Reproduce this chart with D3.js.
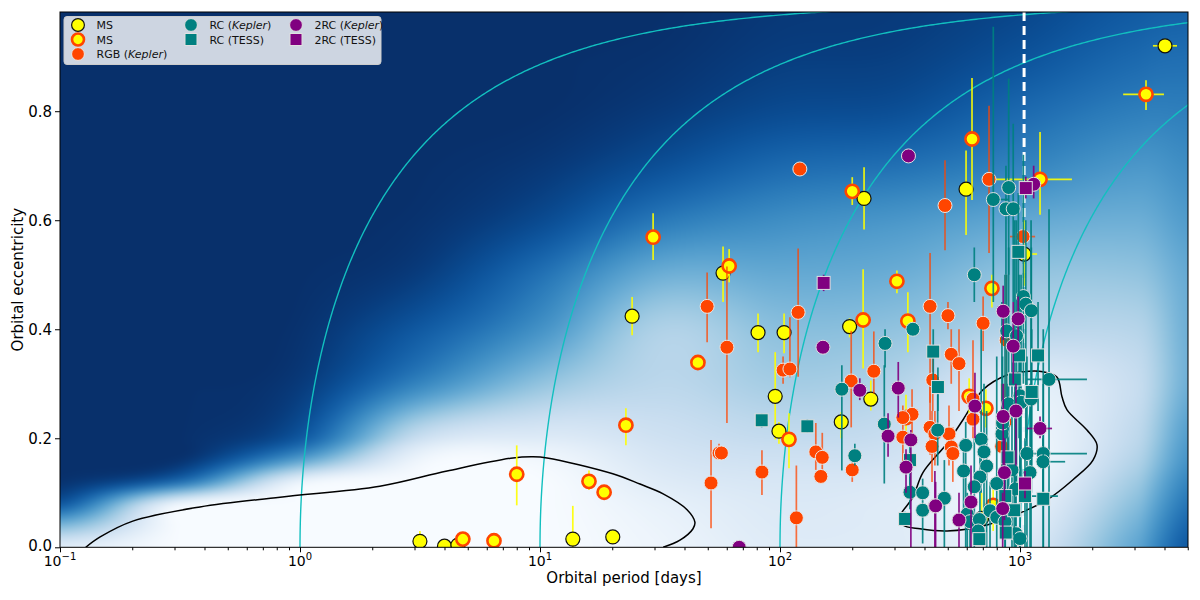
<!DOCTYPE html>
<html>
<head>
<meta charset="utf-8">
<script src="https://cdn.jsdelivr.net/npm/d3@7"></script>
<style>
  body { margin: 0; background: #fff; }
  text { font-family: "DejaVu Sans", sans-serif; }
</style>
</head>
<body>
<svg id="chart" width="1200" height="600"></svg>
<script>
// ---- data: [period, ecc, eLow, eHigh, pLow, pHigh] ----
var msPoints = [
  [4020, 0.92, null, null, 3580, 4510], [224, 0.64, 0.583, 0.697], [596, 0.657, 0.573, 0.728],
  [1040, 0.538, 0.48, 0.6, 935, 1178], [24.2, 0.424, 0.389, 0.459], [57.9, 0.503, 0.45, 0.552],
  [81, 0.394, 0.358, 0.429], [104, 0.394, 0.356, 0.429], [195, 0.405, 0.385, 0.42],
  [95.5, 0.277, 0.198, 0.358], [99, 0.213, 0.19, 0.23], [180, 0.23, 0.2, 0.248],
  [239, 0.272, 0.251, 0.306], [3.16, 0.011, 0.0, 0.03], [4.0, 0.002], [4.55, 0.004],
  [13.7, 0.015, 0.0, 0.076], [20.1, 0.019], [692, 0.053, 0.013, 0.1]
];
var ms2Points = [
  [3350, 0.831, 0.802, 0.857, 2690, 3980], [631, 0.749, 0.637, 0.861], [200, 0.653, 0.628, 0.679],
  [1212, 0.675, 0.61, 0.762, 787, 1646], [29.6, 0.569, 0.527, 0.613], [61.4, 0.516, 0.486, 0.547],
  [307, 0.488, 0.466, 0.508], [341, 0.415, 0.358, 0.468], [222, 0.417, 0.328, 0.51],
  [45.5, 0.339], [109, 0.198, 0.145, 0.246], [22.8, 0.224, 0.187, 0.255],
  [8.0, 0.134, 0.077, 0.187], [16.0, 0.121, 0.105, 0.141], [18.5, 0.101], [4.77, 0.015],
  [6.43, 0.012], [614, 0.277, 0.24, 0.31], [721, 0.255, 0.22, 0.29], [335, 0.238, 0.2, 0.28],
  [764, 0.475, 0.44, 0.5], [773, 0.077, 0.03, 0.11]
];
var rgbPoints = [
  [121, 0.694], [49.7, 0.442, 0.376, 0.504], [60.1, 0.367, 0.228, 0.515], [119, 0.431, 0.313, 0.548],
  [103, 0.325, 0.3, 0.35], [110, 0.327, 0.312, 0.422], [422, 0.442, 0.265, 0.54], [433, 0.307, 0.25, 0.36],
  [198, 0.305, 0.22, 0.397], [246, 0.323, 0.282, 0.396], [355, 0.244, 0.2, 0.29], [325, 0.202, 0.15, 0.26],
  [325, 0.238], [422, 0.22, 0.17, 0.3], [442, 0.208, 0.15, 0.25], [430, 0.185, 0.12, 0.25],
  [55.7, 0.173, 0.16, 0.19], [57.0, 0.173], [51.6, 0.118, 0.035, 0.197], [84.1, 0.138, 0.096, 0.178],
  [141, 0.175, 0.142, 0.228], [150, 0.165, 0.13, 0.21], [148, 0.13], [200, 0.142, 0.12, 0.16],
  [117, 0.054, 0.0, 0.15], [487, 0.627, 0.545, 0.71], [743, 0.675, 0.54, 0.81],
  [1030, 0.57, null, null, 908, 1156], [501, 0.425, 0.4, 0.45], [702, 0.411, 0.36, 0.46],
  [517, 0.354, 0.3, 0.4], [557, 0.337, 0.25, 0.4], [637, 0.272, 0.2, 0.38], [637, 0.235],
  [506, 0.208, 0.15, 0.26], [517, 0.184], [525, 0.172, 0.12, 0.22], [839, 0.185, 0.1, 0.3],
  [866, 0.23, 0.15, 0.3], [876, 0.38, 0.3, 0.5]
];
var rcKeplerPoints = [
  [274, 0.374, 0.33, 0.4], [181, 0.29, 0.141, 0.334], [205, 0.168, 0.15, 0.19], [272, 0.226, 0.117, 0.334],
  [358, 0.4], [348, 0.101, 0.07, 0.13], [393, 0.1, 0.007, 0.126], [393, 0.068], [454, 0.215, 0.15, 0.28],
  [594, 0.187, 0.0, 0.23], [689, 0.198, 0.1, 0.4], [708, 0.175, 0.05, 0.3], [726, 0.149, 0.0, 0.25],
  [681, 0.129, 0.05, 0.2], [582, 0.14, 0.05, 0.2], [645, 0.111, 0.0, 0.2], [800, 0.117, 0.0, 0.35],
  [484, 0.09, 0.0, 0.16], [603, 0.061, 0.0, 0.1], [619, 0.047, 0.0, 0.08], [677, 0.051],
  [750, 0.067, 0.0, 0.12], [800, 0.055], [866, 0.047, 0.0, 0.5], [962, 0.025, 0.0, 0.3],
  [1000, 0.016, 0.0, 0.4], [670, 0.03], [841, 0.208, 0.1, 0.45], [846, 0.228, 0.1, 0.35],
  [897, 0.263, 0.05, 0.55], [1000, 0.278, 0.1, 0.45], [1010, 0.266, 0.1, 0.5], [1112, 0.272, 0.0, 0.6],
  [1069, 0.172, 0.0, 0.35], [1101, 0.137, 0.0, 0.3], [1250, 0.172, 0.0, 0.3, 1069, 1901],
  [1247, 0.157, 0.1, 0.2, 1177, 1542], [1321, 0.308, 0.0, 0.62, 1069, 1901], [926, 0.142, 0.0, 0.4],
  [959, 0.107, 0.0, 0.3], [897, 0.66, 0.5, 0.86], [774, 0.638, 0.45, 0.955, 757, 895],
  [874, 0.621, 0.5, 0.7], [937, 0.621, 0.45, 0.777], [645, 0.5, 0.45, 0.55], [1033, 0.46, 0.3, 0.72],
  [1057, 0.446, 0.2, 0.6], [1115, 0.434, 0.1, 0.55], [880, 0.397, 0.2, 0.5], [967, 0.388, 0.1, 0.6]
];
var rcTessPoints = [
  [83.9, 0.233, 0.22, 0.245], [130, 0.222, 0.21, 0.235], [435, 0.359, 0.3, 0.4], [455, 0.294, 0.25, 0.33],
  [348, 0.16, 0.1, 0.2], [332, 0.052, 0.04, 0.065], [952, 0.308, 0.1, 0.6], [991, 0.352, 0.2, 0.5],
  [1189, 0.352, 0.25, 0.45], [1119, 0.285, 0.15, 0.4], [887, 0.165, 0.05, 0.3],
  [1049, 0.094, 0.0, 0.2, 1030, 1439], [1250, 0.089, 0.0, 0.4], [868, 0.094, 0.0, 0.2],
  [946, 0.068, 0.0, 0.15], [872, 0.027], [677, 0.015], [984, 0.542, 0.4, 0.65]
];
var twoRcKeplerPoints = [
  [343, 0.718], [151, 0.367], [215, 0.288, 0.27, 0.31], [311, 0.292, 0.238, 0.34], [282, 0.204, 0.166, 0.246],
  [351, 0.197, 0.0, 0.215], [335, 0.147, 0.1, 0.18], [442, 0.076, 0.0, 0.14], [67.6, 0.0],
  [937, 0.369, 0.3, 0.45], [851, 0.24, 0.15, 0.3], [962, 0.25, 0.15, 0.3], [649, 0.259, 0.2, 0.32],
  [1212, 0.218, 0.2, 0.24, 1069, 1360], [861, 0.137, 0.05, 0.2], [625, 0.083, 0.0, 0.15],
  [445, 0.076, 0.0, 0.12], [557, 0.05, 0.0, 0.1], [847, 0.071, 0.0, 0.1], [1140, 0.666, 0.64, 0.7],
  [851, 0.433, 0.38, 0.48], [982, 0.419, 0.37, 0.46]
];
var twoRcTessPoints = [
  [152, 0.485, 0.47, 0.5], [1049, 0.117, 0.09, 0.14], [1057, 0.659, 0.64, 0.68]
];

// background density (0 = dark, 1 = white), one column per log-period node, rows follow bgEcc
var bgLogP = [-1, -0.5, 0, 0.5, 1, 1.5, 2, 2.5, 3, 3.5, 3.7];
var bgEcc = [0, 0.04, 0.08, 0.12, 0.16, 0.2, 0.3, 0.4, 0.5, 0.6, 0.7, 0.8, 0.9, 1.0];
var bgDensity = [
  [0.9, 0.55, 0.15, 0.01, 0, 0, 0, 0, 0, 0, 0, 0, 0, 0],
  [1, 1, 0.97, 0.25, 0.01, 0, 0, 0, 0, 0, 0, 0, 0, 0],
  [1, 1, 1, 0.95, 0.45, 0.15, 0.04, 0.01, 0, 0, 0, 0, 0, 0],
  [1, 1, 1, 1, 0.96, 0.78, 0.33, 0.16, 0.05, 0.01, 0, 0, 0, 0],
  [1, 1, 1, 1, 0.97, 0.87, 0.6, 0.38, 0.25, 0.1, 0.03, 0, 0, 0],
  [0.95, 0.94, 0.92, 0.88, 0.84, 0.8, 0.72, 0.68, 0.5, 0.28, 0.12, 0.04, 0.01, 0],
  [0.88, 0.87, 0.86, 0.84, 0.8, 0.75, 0.65, 0.58, 0.48, 0.36, 0.22, 0.1, 0.05, 0.03],
  [0.88, 0.88, 0.88, 0.86, 0.82, 0.78, 0.7, 0.6, 0.5, 0.4, 0.25, 0.12, 0.06, 0.04],
  [0.87, 0.9, 0.93, 0.96, 0.97, 0.96, 0.9, 0.7, 0.6, 0.47, 0.32, 0.22, 0.13, 0.08],
  [0.45, 0.5, 0.56, 0.62, 0.68, 0.72, 0.76, 0.7, 0.6, 0.5, 0.4, 0.3, 0.22, 0.16],
  [0.15, 0.2, 0.26, 0.32, 0.38, 0.42, 0.5, 0.5, 0.48, 0.42, 0.36, 0.3, 0.24, 0.18]
];

// contour lines [period, ecc]
var contourLeft = [
  [0.128, 0.0], [0.147, 0.019], [0.201, 0.048], [0.383, 0.074], [0.826, 0.092], [2.15, 0.112],
  [4.10, 0.140], [7.72, 0.164], [9.35, 0.166], [10.7, 0.164], [20.1, 0.135], [26.1, 0.116],
  [32.6, 0.098], [41.0, 0.069], [44.2, 0.046], [43.4, 0.034], [38.3, 0.013], [32.6, 0.0]
];
var contourRight = [
  [316, 0.056], [358, 0.092], [394, 0.137], [497, 0.191], [579, 0.234], [701, 0.289], [883, 0.316],
  [1029, 0.322], [1247, 0.322], [1427, 0.312], [1496, 0.276], [1570, 0.252], [1901, 0.215],
  [2093, 0.188], [2015, 0.160], [1662, 0.124], [1296, 0.087], [1000, 0.063], [729, 0.041],
  [497, 0.030], [383, 0.034], [325, 0.041]
];
var circPeriods = [1, 10, 100, 1000];
var cutoffPeriod = 1040;
var xMajorTicks = [0.1, 1, 10, 100, 1000];
var xTickExp = ["\u22121", "0", "1", "2", "3"];
var yTicks = [0, 0.2, 0.4, 0.6, 0.8];

// ---- layout ----
var svg = d3.select('#chart');
var pLeft = 60, pRight = 1188, pTop = 12, pBottom = 547.3;
var x = d3.scaleLog().domain([0.1, Math.pow(10, 3.7)]).range([pLeft, pRight]);
var y = d3.scaleLinear().domain([0, 0.982]).range([pBottom, pTop]);

svg.append('defs').append('clipPath').attr('id', 'plotclip')
  .append('rect').attr('x', pLeft).attr('y', pTop).attr('width', pRight - pLeft).attr('height', pBottom - pTop);

// ---- background heatmap (Catmull-Rom through the grid nodes) ----
function nodeFraction(nodes, v) {
  var n = nodes.length;
  v = Math.max(nodes[0], Math.min(nodes[n - 1], v));
  var i = Math.min(d3.bisectRight(nodes, v) - 1, n - 2);
  return i + (v - nodes[i]) / (nodes[i + 1] - nodes[i]);
}
function catmull(vals, s) {
  var n = vals.length;
  var i = Math.min(Math.floor(s), n - 2), f = s - i;
  var p0 = vals[Math.max(i - 1, 0)], p1 = vals[i], p2 = vals[i + 1], p3 = vals[Math.min(i + 2, n - 1)];
  return 0.5 * (2 * p1 + (p2 - p0) * f + (2 * p0 - 5 * p1 + 4 * p2 - p3) * f * f + (3 * p1 - p0 - 3 * p2 + p3) * f * f * f);
}
var W = Math.round(pRight - pLeft), H = Math.round(pBottom - pTop), pad = 30;
var lut = d3.range(256).map(function(k){ return d3.rgb(d3.interpolateBlues(k / 255)); });
var rowsByEcc = bgEcc.map(function(e, j){ return bgDensity.map(function(col){ return col[j]; }); });
var off = document.createElement('canvas');
off.width = W + 2 * pad; off.height = H + 2 * pad;
var octx = off.getContext('2d');
var img = octx.createImageData(off.width, off.height);
var rowS = d3.range(off.height).map(function(py){ return nodeFraction(bgEcc, y.invert(pTop + py - pad)); });
for (var px = 0; px < off.width; px++) {
  var sc = nodeFraction(bgLogP, Math.log10(x.invert(pLeft + px - pad)));
  var profile = rowsByEcc.map(function(r){ return catmull(r, sc); });
  for (var py = 0; py < off.height; py++) {
    var v = catmull(profile, rowS[py]);
    var c = lut[Math.round((1 - Math.max(0, Math.min(1, v))) * 255)];
    var k = (py * off.width + px) * 4;
    img.data[k] = c.r; img.data[k + 1] = c.g; img.data[k + 2] = c.b; img.data[k + 3] = 255;
  }
}
octx.putImageData(img, 0, 0);
var bg = document.createElement('canvas');
bg.width = W; bg.height = H;
var bctx = bg.getContext('2d');
bctx.filter = 'blur(4px)';
bctx.drawImage(off, -pad, -pad);
svg.append('image')
  .attr('x', pLeft).attr('y', pTop).attr('width', W).attr('height', H)
  .attr('preserveAspectRatio', 'none')
  .attr('href', bg.toDataURL());

var plot = svg.append('g').attr('clip-path', 'url(#plotclip)');

// ---- constant angular momentum tracks ----
var circLine = d3.line().x(function(d){ return x(d[0]); }).y(function(d){ return y(d[1]); });
circPeriods.forEach(function(p0) {
  var pts = d3.range(0, 1.0001, 0.002).map(function(t) {
    var p = p0 * Math.pow(10, t * t * 4);
    return [p, Math.sqrt(1 - Math.pow(p0 / p, 2 / 3))];
  });
  plot.append('path').attr('d', circLine(pts))
    .attr('fill', 'none').attr('stroke', '#12bfbf').attr('stroke-width', 1.4);
});

// ---- contours ----
plot.append('path')
  .attr('d', d3.line().curve(d3.curveCatmullRom).x(function(d){ return x(d[0]); }).y(function(d){ return y(d[1]); })(contourLeft))
  .attr('fill', 'none').attr('stroke', '#000').attr('stroke-width', 1.5);
plot.append('path')
  .attr('d', d3.line().curve(d3.curveCatmullRomClosed).x(function(d){ return x(d[0]); }).y(function(d){ return y(d[1]); })(contourRight))
  .attr('fill', 'none').attr('stroke', '#000').attr('stroke-width', 1.5);

// dashed cutoff
plot.append('line')
  .attr('x1', x(cutoffPeriod)).attr('x2', x(cutoffPeriod)).attr('y1', pTop).attr('y2', pBottom)
  .attr('stroke', '#fff').attr('stroke-width', 3).attr('stroke-dasharray', '9,5');

// ---- error bars + markers ----
function drawSeries(data, opts) {
  var g = plot.append('g');
  data.forEach(function(d) {
    if (d[2] != null) {
      g.append('line').attr('x1', x(d[0])).attr('x2', x(d[0])).attr('y1', y(d[2])).attr('y2', y(d[3]))
        .attr('stroke', opts.bar).attr('stroke-width', 1.7).attr('opacity', opts.barOpacity);
    }
    if (d[4] != null) {
      g.append('line').attr('x1', x(d[4])).attr('x2', x(d[5])).attr('y1', y(d[1])).attr('y2', y(d[1]))
        .attr('stroke', opts.bar).attr('stroke-width', 1.7).attr('opacity', opts.barOpacity);
    }
  });
  data.forEach(function(d) {
    if (opts.square) {
      g.append('rect').attr('x', x(d[0]) - 6.5).attr('y', y(d[1]) - 6.5).attr('width', 13).attr('height', 13)
        .attr('fill', opts.fill).attr('stroke', opts.stroke).attr('stroke-width', opts.sw);
    } else {
      g.append('circle').attr('cx', x(d[0])).attr('cy', y(d[1])).attr('r', opts.r || 7)
        .attr('fill', opts.fill).attr('stroke', opts.stroke).attr('stroke-width', opts.sw);
    }
  });
}
var styles = {
  ms:   {fill: '#ffff00', stroke: '#111', sw: 1.2, bar: '#ffff00', barOpacity: 0.9},
  ms2:  {fill: '#ffff00', stroke: '#ff4500', sw: 2.6, bar: '#ffff00', barOpacity: 0.9, r: 6.6},
  rgb:  {fill: '#ff4500', stroke: '#e8e8e8', sw: 1, bar: '#ff4500', barOpacity: 0.75},
  rc:   {fill: '#008080', stroke: '#e0e0e0', sw: 1, bar: '#008080', barOpacity: 0.9},
  rct:  {fill: '#008080', stroke: '#e0e0e0', sw: 1, bar: '#008080', barOpacity: 0.9, square: true},
  rc2:  {fill: '#800080', stroke: '#e0e0e0', sw: 1, bar: '#800080', barOpacity: 0.9},
  rc2t: {fill: '#800080', stroke: '#e0e0e0', sw: 1, bar: '#800080', barOpacity: 0.9, square: true}
};
drawSeries(msPoints, styles.ms);
drawSeries(ms2Points, styles.ms2);
drawSeries(rgbPoints, styles.rgb);
drawSeries(rcKeplerPoints, styles.rc);
drawSeries(rcTessPoints, styles.rct);
drawSeries(twoRcKeplerPoints, styles.rc2);
drawSeries(twoRcTessPoints, styles.rc2t);

// ---- axes ----
svg.append('rect').attr('x', pLeft).attr('y', pTop).attr('width', pRight - pLeft).attr('height', pBottom - pTop)
  .attr('fill', 'none').attr('stroke', '#000').attr('stroke-width', 1);

var minorTicks = [];
[-1, 0, 1, 2, 3].forEach(function(p) {
  for (var m = 2; m <= 9; m++) {
    var v = m * Math.pow(10, p);
    if (v <= Math.pow(10, 3.7)) minorTicks.push(v);
  }
});
svg.append('g').attr('transform', 'translate(0,' + pBottom + ')')
  .call(d3.axisBottom(x).tickValues(minorTicks).tickSize(3).tickFormat(''))
  .call(function(g){ g.select('.domain').remove(); });
var xAxis = svg.append('g').attr('transform', 'translate(0,' + pBottom + ')')
  .call(d3.axisBottom(x).tickValues(xMajorTicks).tickSize(5).tickFormat(''));
xAxis.select('.domain').remove();
xMajorTicks.forEach(function(t, i) {
  var tx = svg.append('text').attr('x', x(t)).attr('y', pBottom + 19)
    .attr('text-anchor', 'middle').attr('font-size', 14).attr('fill', '#000');
  tx.append('tspan').text('10');
  tx.append('tspan').attr('dy', -6).attr('font-size', 10).text(xTickExp[i]);
});

var yAxis = svg.append('g').attr('transform', 'translate(' + pLeft + ',0)')
  .call(d3.axisLeft(y).tickValues(yTicks).tickSize(5).tickFormat(d3.format('.1f')));
yAxis.select('.domain').remove();
yAxis.selectAll('text').attr('font-size', 15).attr('font-family', '"DejaVu Sans", sans-serif');
// lift the 0.0 label a touch so it clears the first period label
yAxis.selectAll('.tick').filter(function(d){ return d === 0; }).select('text').attr('dy', '0.2em');

svg.append('text').attr('x', (pLeft + pRight) / 2).attr('y', 583)
  .attr('text-anchor', 'middle').attr('font-size', 15).text('Orbital period [days]');
svg.append('text').attr('transform', 'translate(23,' + ((pTop + pBottom) / 2) + ') rotate(-90)')
  .attr('text-anchor', 'middle').attr('font-size', 15).text('Orbital eccentricity');

// ---- legend ----
var legend = svg.append('g');
legend.append('rect').attr('x', 64).attr('y', 16.5).attr('width', 317).attr('height', 48).attr('rx', 3)
  .attr('fill', '#fff').attr('fill-opacity', 0.8).attr('stroke', '#ccc');
var legendItems = [
  {style: styles.ms, label: ['MS'], mx: 78, ty: 25},
  {style: styles.ms2, label: ['MS'], mx: 78, ty: 39.5},
  {style: styles.rgb, label: ['RGB (', 'Kepler', ')'], mx: 78, ty: 54},
  {style: styles.rc, label: ['RC (', 'Kepler', ')'], mx: 191, ty: 25},
  {style: styles.rct, label: ['RC (TESS)'], mx: 191, ty: 39.5},
  {style: styles.rc2, label: ['2RC (', 'Kepler', ')'], mx: 296, ty: 25},
  {style: styles.rc2t, label: ['2RC (TESS)'], mx: 296, ty: 39.5}
];
legendItems.forEach(function(it) {
  var s = it.style;
  if (s.square) {
    legend.append('rect').attr('x', it.mx - 6).attr('y', it.ty - 6).attr('width', 12).attr('height', 12)
      .attr('fill', s.fill).attr('stroke', s.stroke).attr('stroke-width', s.sw);
  } else {
    legend.append('circle').attr('cx', it.mx).attr('cy', it.ty).attr('r', s.r ? 6 : 6.4)
      .attr('fill', s.fill).attr('stroke', s.stroke).attr('stroke-width', s.sw);
  }
  var t = legend.append('text').attr('x', it.mx + 18.5).attr('y', it.ty + 4).attr('font-size', 11).attr('fill', '#111');
  it.label.forEach(function(part, i) {
    t.append('tspan').attr('font-style', i === 1 ? 'italic' : 'normal').text(part);
  });
});
</script>
</body>
</html>
